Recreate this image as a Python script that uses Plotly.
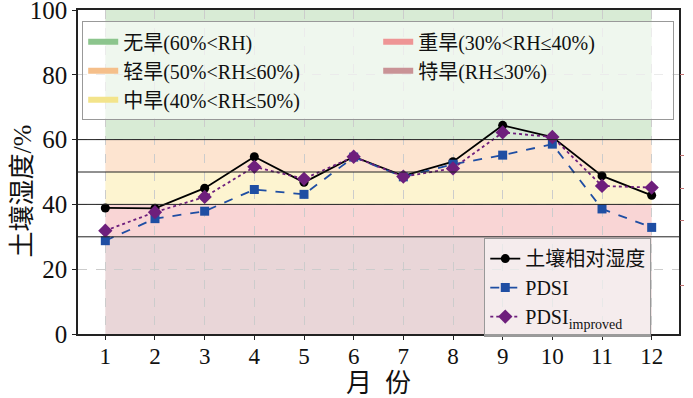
import plotly.graph_objects as go

months = list(range(1, 13))
soil_rh = [38.9, 38.8, 45.0, 54.7, 46.8, 54.7, 48.8, 53.2, 64.4, 60.8, 48.8, 42.8]
pdsi = [28.8, 35.6, 37.9, 44.6, 43.1, 54.6, 48.5, 52.4, 55.2, 58.6, 38.6, 32.9]
pdsi_improved = [31.9, 37.6, 42.3, 51.6, 47.9, 54.7, 48.6, 51.1, 62.2, 60.8, 45.7, 45.2]

band_names = ["无旱(60%<RH)", "轻旱(50%<RH≤60%)", "中旱(40%<RH≤50%)",
              "重旱(30%<RH≤40%)", "特旱(RH≤30%)"]
band_low = [60, 50, 40, 30, 0]
band_high = [100, 60, 50, 40, 30]
band_fill = ["#d8ebd5", "#fde4d0", "#fdf4d0", "#f9d5d5", "#e9d6d8"]
band_swatch = ["#8cc58d", "#f5bf8a", "#f3e48b", "#ee9595", "#c99396"]
threshold_lines = [30, 40, 50, 60]
right_ticks = [15, 35, 45, 55, 80]

y_ticks = [0, 20, 40, 60, 80, 100]
series_names = ["土壤相对湿度", "PDSI", "PDSI<sub>improved</sub>"]
y_title = "土壤湿度/%"
x_title = "月  份"

FONT = "Liberation Serif, Times New Roman, Noto Sans CJK SC, serif"

fig = go.Figure()

shapes = []
for lo, hi, col in zip(band_low, band_high, band_fill):
    shapes.append(dict(type="rect", xref="x", yref="y", x0=months[0], x1=months[-1],
                       y0=lo, y1=hi, fillcolor=col, line_width=0, layer="below"))
for v in threshold_lines:
    shapes.append(dict(type="line", xref="paper", yref="y", x0=0, x1=1, y0=v, y1=v,
                       line=dict(color="#222222", width=1), layer="above"))

# legend entries for bands (order for row-wise horizontal legend layout)
order = [0, 3, 1, 4, 2]
for i in order:
    fig.add_trace(go.Scatter(x=[None], y=[None], mode="lines", name=band_names[i],
                             line=dict(color=band_swatch[i], width=6),
                             legend="legend", showlegend=True))

fig.add_trace(go.Scatter(x=months, y=soil_rh, mode="lines+markers", name=series_names[0],
                         line=dict(color="black", width=1.8),
                         marker=dict(symbol="circle", size=9, color="black"),
                         legend="legend2"))
fig.add_trace(go.Scatter(x=months, y=pdsi, mode="lines+markers", name=series_names[1],
                         line=dict(color="#1f4ea3", width=1.8, dash="dash"),
                         marker=dict(symbol="square", size=9, color="#1f4ea3"),
                         legend="legend2"))
fig.add_trace(go.Scatter(x=months, y=pdsi_improved, mode="lines+markers", name=series_names[2],
                         line=dict(color="#6e1f7c", width=1.8, dash="dot"),
                         marker=dict(symbol="diamond", size=11, color="#6e1f7c"),
                         legend="legend2"))

# secondary axis with small tick marks on the right
fig.add_trace(go.Scatter(x=[None], y=[None], yaxis="y2", showlegend=False))

fig.update_layout(
    width=693, height=398,
    margin=dict(l=78, r=14, t=10, b=64, autoexpand=False),
    paper_bgcolor="white", plot_bgcolor="white",
    font=dict(family=FONT, size=20, color="#111111"),
    shapes=shapes,
    xaxis=dict(range=[0.45, 12.55], tickvals=months, ticks="outside", ticklen=4,
               tickcolor="#222222", showline=True, linecolor="#222222", linewidth=1.5,
               mirror=True, showgrid=True, gridcolor="#cccccc", griddash="dash",
               gridwidth=0.8, zeroline=False, automargin=False,
               ticklabeloverflow="allow", ticklabelstandoff=-3,
               tickfont=dict(size=23),
               title=dict(text=x_title, font=dict(size=26), standoff=8)),
    yaxis=dict(range=[0, 100], tickvals=y_ticks, ticks="outside", ticklen=4,
               tickcolor="#222222", showline=True, linecolor="#222222", linewidth=1.5,
               mirror=True, showgrid=True, gridcolor="#cccccc", griddash="dash",
               gridwidth=0.8, zeroline=False, automargin=False,
               ticklabeloverflow="allow",
               tickfont=dict(size=25)),
    yaxis2=dict(overlaying="y", side="right", range=[0, 100], tickvals=right_ticks,
                showticklabels=False, ticks="outside", ticklen=4, tickcolor="#c07070",
                showgrid=False, zeroline=False, showline=False, automargin=False),
    annotations=[dict(text=y_title, xref="paper", yref="paper", x=-0.093, y=0.44,
                      xanchor="center", yanchor="middle", textangle=-90,
                      showarrow=False, font=dict(size=26))],
    legend=dict(orientation="h", x=0.007, y=0.965, xanchor="left", yanchor="top",
                bgcolor="rgba(255,255,255,0.6)", bordercolor="#999999", borderwidth=1,
                font=dict(size=20), entrywidth=250, entrywidthmode="pixels",
                itemwidth=30, traceorder="normal"),
    legend2=dict(orientation="v", x=0.676, y=0.296, xanchor="left", yanchor="top",
                 bgcolor="rgba(255,255,255,0.55)", bordercolor="#999999", borderwidth=1,
                 font=dict(size=20), itemwidth=30, tracegroupgap=0),
)

# remove the default page margin so the figure sits at the window's top-left corner
fig.write_html("out.html", config={"displayModeBar": False},
               post_script="document.body.style.margin='0';")
